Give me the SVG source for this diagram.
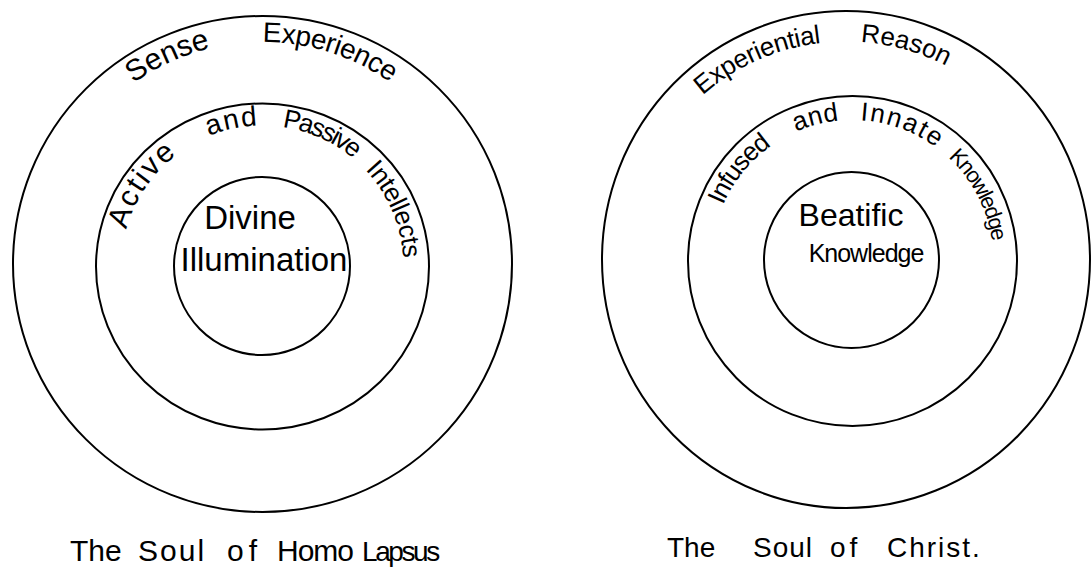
<svg xmlns="http://www.w3.org/2000/svg" width="1091" height="571" viewBox="0 0 1091 571">
<style>
.ring{fill:none;stroke:#000;stroke-width:2}
.lbl{font-family:"Liberation Sans",Arial,sans-serif;fill:#000}
.mid{text-anchor:middle}
</style>
<defs>
<path id="pLO" d="M 70.24 375 A 222 222 0 1 1 454.76 375"/>
<path id="pLM" d="M 140.39 337 A 141 141 0 1 1 384.61 337"/>
<path id="pRO" d="M 657.21 368.5 A 218 218 0 1 1 1034.79 368.5"/>
<path id="pRM" d="M 730.39 331.5 A 141 141 0 1 1 974.61 331.5"/>
</defs>
<rect width="1091" height="571" fill="#fff"/>

<g id="left-outer">
<ellipse class="ring" cx="262.5" cy="264" rx="249.5" ry="248"/>
<text class="lbl" font-size="30"><textPath href="#pLO" startOffset="327">Sense</textPath></text>
<text class="lbl" font-size="28" letter-spacing="-0.5"><textPath href="#pLO" startOffset="465">Experience</textPath></text>
</g>
<g id="left-middle">
<ellipse class="ring" cx="262.5" cy="266.5" rx="166.5" ry="163"/>
<text class="lbl" font-size="30" letter-spacing="2"><textPath href="#pLM" startOffset="111">Active</textPath></text>
<text class="lbl" font-size="28" letter-spacing="1.5"><textPath href="#pLM" startOffset="240">and</textPath></text>
<text class="lbl" font-size="26" letter-spacing="-2"><textPath href="#pLM" startOffset="315">Passive</textPath></text>
<text class="lbl" font-size="26" letter-spacing="-0.5"><textPath href="#pLM" startOffset="410">Intellects</textPath></text>
</g>
<g id="left-inner">
<ellipse class="ring" cx="262" cy="266" rx="88" ry="89"/>
<text class="lbl mid" font-size="33" x="250" y="229">Divine</text>
<text class="lbl mid" font-size="33" x="264" y="271">Illumination</text>
</g>
<g id="left-caption">
<text class="lbl" font-size="30" y="561"><tspan x="70">The</tspan><tspan x="138" letter-spacing="2">Soul</tspan><tspan x="227" letter-spacing="5">of</tspan><tspan x="277" letter-spacing="-1">Homo</tspan><tspan x="362" font-size="28" letter-spacing="-2.4">Lapsus</tspan></text>
</g>

<g id="right-outer">
<ellipse class="ring" cx="846" cy="259.5" rx="244" ry="248.5"/>
<text class="lbl" font-size="26" letter-spacing="-0.4"><textPath href="#pRO" startOffset="300">Experiential</textPath></text>
<text class="lbl" font-size="26"><textPath href="#pRO" startOffset="471">Reason</textPath></text>
</g>
<g id="right-middle">
<ellipse class="ring" cx="852.5" cy="261" rx="164.5" ry="165"/>
<text class="lbl" font-size="26" letter-spacing="-1.2"><textPath href="#pRM" startOffset="131">Infused</textPath></text>
<text class="lbl" font-size="26" letter-spacing="0.5"><textPath href="#pRM" startOffset="237">and</textPath></text>
<text class="lbl" font-size="26" letter-spacing="1.8"><textPath href="#pRM" startOffset="303">Innate</textPath></text>
<text class="lbl" font-size="22" letter-spacing="-1.5"><textPath href="#pRM" startOffset="400">Knowledge</textPath></text>
</g>
<g id="right-inner">
<ellipse class="ring" cx="851.5" cy="260" rx="87.5" ry="88"/>
<text class="lbl mid" font-size="32" x="851" y="226">Beatific</text>
<text class="lbl mid" font-size="25" letter-spacing="-1" x="866" y="262">Knowledge</text>
</g>
<g id="right-caption">
<text class="lbl" font-size="28" y="557"><tspan x="667">The</tspan><tspan x="753" letter-spacing="1">Soul</tspan><tspan x="830" letter-spacing="4">of</tspan><tspan x="887" letter-spacing="2">Christ.</tspan></text>
</g>
</svg>
